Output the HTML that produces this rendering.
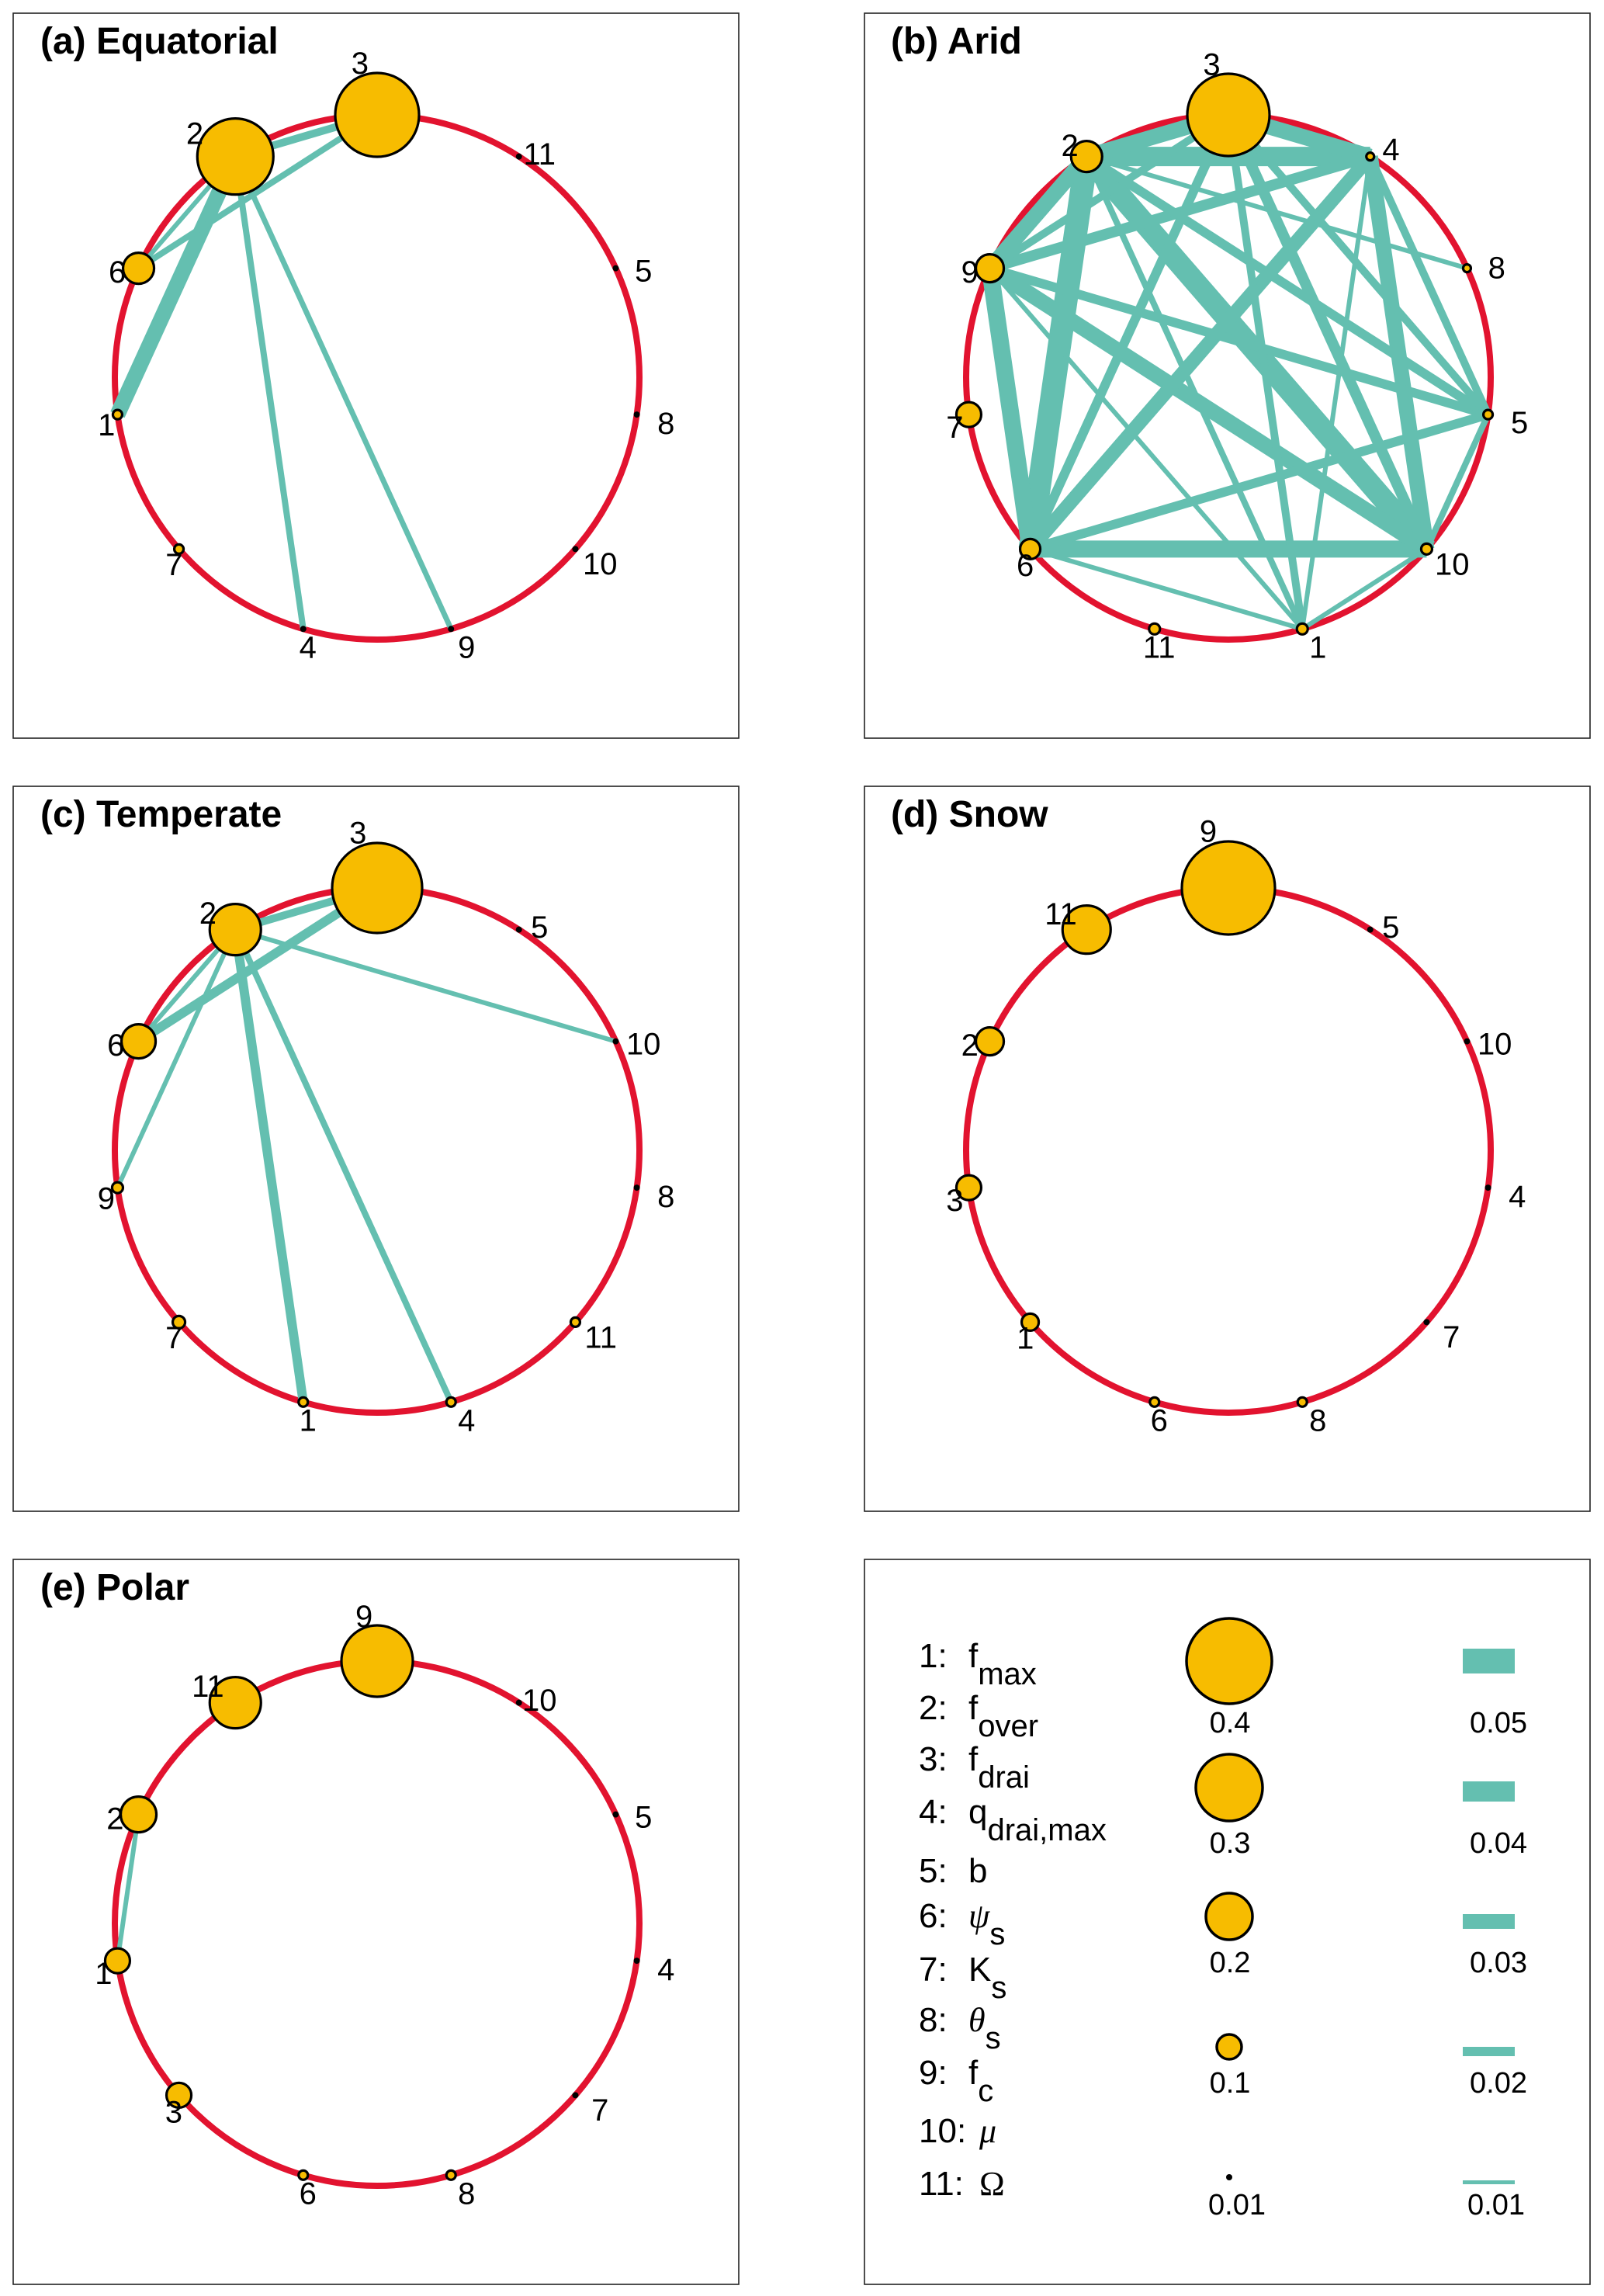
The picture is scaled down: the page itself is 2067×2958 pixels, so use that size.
<!DOCTYPE html>
<html><head><meta charset="utf-8">
<style>
html,body{margin:0;padding:0;background:#fff;}
svg{display:block;}
text{font-family:"Liberation Sans",Arial,sans-serif;}
.t{font-weight:bold;font-size:48px;}
.lb text{font-size:40px;text-anchor:middle;dominant-baseline:central;}
.lg{font-size:44px;}
.sub{font-size:40px;}
.gr{font-family:"Liberation Serif",serif;font-style:italic;}
.num{font-size:38px;text-anchor:middle;}
</style></head>
<body>
<svg id="s" width="2067" height="2958" xmlns="http://www.w3.org/2000/svg">
<rect width="2067" height="2958" fill="#fff"/>
<g id="p0"><rect x="17" y="17" width="935" height="934" fill="none" stroke="#222" stroke-width="1.6"/>
<text class="t" x="52" y="69">(a) Equatorial</text>
<g class="lb"><text>1</text><text>2</text><text>3</text><text>4</text><text>5</text><text>6</text><text>7</text><text>8</text><text>9</text><text>10</text><text>11</text></g></g>
<g id="p1"><rect x="1114" y="17" width="935" height="934" fill="none" stroke="#222" stroke-width="1.6"/>
<text class="t" x="1148" y="69">(b) Arid</text>
<g class="lb"><text>1</text><text>2</text><text>3</text><text>4</text><text>5</text><text>6</text><text>7</text><text>8</text><text>9</text><text>10</text><text>11</text></g></g>
<g id="p2"><rect x="17" y="1013" width="935" height="934" fill="none" stroke="#222" stroke-width="1.6"/>
<text class="t" x="52" y="1065">(c) Temperate</text>
<g class="lb"><text>1</text><text>2</text><text>3</text><text>4</text><text>5</text><text>6</text><text>7</text><text>8</text><text>9</text><text>10</text><text>11</text></g></g>
<g id="p3"><rect x="1114" y="1013" width="935" height="934" fill="none" stroke="#222" stroke-width="1.6"/>
<text class="t" x="1148" y="1065">(d) Snow</text>
<g class="lb"><text>1</text><text>2</text><text>3</text><text>4</text><text>5</text><text>6</text><text>7</text><text>8</text><text>9</text><text>10</text><text>11</text></g></g>
<g id="p4"><rect x="17" y="2009" width="935" height="934" fill="none" stroke="#222" stroke-width="1.6"/>
<text class="t" x="52" y="2061">(e) Polar</text>
<g class="lb"><text>1</text><text>2</text><text>3</text><text>4</text><text>5</text><text>6</text><text>7</text><text>8</text><text>9</text><text>10</text><text>11</text></g></g>

<g id="leg">
<rect x="1114" y="2009" width="935" height="934" fill="none" stroke="#222" stroke-width="1.6"/>
<text class="lg" x="1184" y="2148">1:</text><text class="lg" x="1248" y="2148">f<tspan class="sub" dy="22">max</tspan></text>
<text class="lg" x="1184" y="2215">2:</text><text class="lg" x="1248" y="2215">f<tspan class="sub" dy="22">over</tspan></text>
<text class="lg" x="1184" y="2281">3:</text><text class="lg" x="1248" y="2281">f<tspan class="sub" dy="22">drai</tspan></text>
<text class="lg" x="1184" y="2349">4:</text><text class="lg" x="1248" y="2349">q<tspan class="sub" dy="22">drai,max</tspan></text>
<text class="lg" x="1184" y="2425">5:</text><text class="lg" x="1248" y="2425">b</text>
<text class="lg" x="1184" y="2483">6:</text><text class="lg" x="1248" y="2483"><tspan class="gr">ψ</tspan><tspan class="sub" dy="22">s</tspan></text>
<text class="lg" x="1184" y="2552">7:</text><text class="lg" x="1248" y="2552">K<tspan class="sub" dy="22">s</tspan></text>
<text class="lg" x="1184" y="2617">8:</text><text class="lg" x="1248" y="2617"><tspan class="gr">θ</tspan><tspan class="sub" dy="22">s</tspan></text>
<text class="lg" x="1184" y="2685">9:</text><text class="lg" x="1248" y="2685">f<tspan class="sub" dy="22">c</tspan></text>
<text class="lg" x="1184" y="2760">10:</text><text class="lg" x="1262" y="2760"><tspan class="gr">μ</tspan></text>
<text class="lg" x="1184" y="2828">11:</text><text class="lg" x="1262" y="2828" style="font-family:'Liberation Serif',serif">Ω</text>

<circle cx="1584" cy="2140" r="55" fill="#F7BC00" stroke="#000" stroke-width="3.5"/>
<circle cx="1584" cy="2303" r="43" fill="#F7BC00" stroke="#000" stroke-width="3.5"/>
<circle cx="1584" cy="2469" r="30" fill="#F7BC00" stroke="#000" stroke-width="3.5"/>
<circle cx="1584" cy="2637" r="16" fill="#F7BC00" stroke="#000" stroke-width="3.5"/>
<circle cx="1584" cy="2805" r="4" fill="#000"/>
<text class="num" x="1585" y="2232">0.4</text>
<text class="num" x="1585" y="2387">0.3</text>
<text class="num" x="1585" y="2541">0.2</text>
<text class="num" x="1585" y="2696">0.1</text>
<text class="num" x="1594" y="2853">0.01</text>

<rect x="1885" y="2124" width="67" height="32" fill="#64BFB0"/>
<rect x="1885" y="2295" width="67" height="26" fill="#64BFB0"/>
<rect x="1885" y="2466" width="67" height="19" fill="#64BFB0"/>
<rect x="1885" y="2637" width="67" height="12" fill="#64BFB0"/>
<rect x="1885" y="2809" width="67" height="5" fill="#64BFB0"/>
<text class="num" x="1931" y="2232">0.05</text>
<text class="num" x="1931" y="2387">0.04</text>
<text class="num" x="1931" y="2541">0.03</text>
<text class="num" x="1931" y="2696">0.02</text>
<text class="num" x="1928" y="2853">0.01</text>
</g>
</svg>
<script>
(function(){
var NS="http://www.w3.org/2000/svg";
var P=[
{x:17,y:17,ord:[3,11,5,8,10,9,4,7,1,6,2],
 R:[0,6,49,54,4,4,20,6,4,4,4,3],
 E:[[2,1,20],[2,3,10],[3,6,8],[2,6,6],[2,4,8],[2,9,7]]},
{x:1114,y:17,ord:[3,4,8,5,10,1,11,6,7,9,2],
 R:[0,7,20,53,5,6,13,16,5,18,7,7],
 E:[[2,6,30],[2,10,28],[2,4,25],[2,3,20],[3,4,20],[9,2,20],[9,6,22],[6,10,22],[9,10,20],[4,10,20],[6,4,18],[3,10,14],[9,4,14],[9,3,10],[3,6,12],[9,5,12],[2,5,12],[6,5,12],[3,5,10],[3,1,10],[2,1,8],[4,5,10],[10,5,8],[4,1,6],[10,1,6],[6,1,6],[9,1,6],[2,8,6]]},
{x:17,y:1013,ord:[3,5,10,8,11,4,1,7,9,6,2],
 R:[0,6,33,58,6,4,22,8,4,7,4,6],
 E:[[3,2,10],[3,6,12],[2,6,6],[2,9,6],[2,1,12],[2,4,8],[2,10,6]]},
{x:1114,y:1013,ord:[9,5,10,4,7,8,6,1,3,2,11],
 R:[0,11,18,16,4,4,6,4,6,60,4,31],E:[]},
{x:17,y:2009,ord:[9,10,5,4,7,8,6,3,1,2,11],
 R:[0,16,23,16,4,4,6,4,6,46,4,33],E:[[2,1,6]]}
];
function mk(t,a){var e=document.createElementNS(NS,t);for(var k in a)e.setAttribute(k,a[k]);return e;}
P.forEach(function(p,i){
 var g=document.getElementById('p'+i),lb=g.querySelector('.lb');
 var cx=p.x+469,cy=p.y+469,r=338,pos={};
 p.ord.forEach(function(n,k){var t=(-90+k*360/11)*Math.PI/180;pos[n]=[cx+r*Math.cos(t),cy+r*Math.sin(t),t];});
 g.insertBefore(mk('circle',{cx:cx,cy:cy,r:r,fill:'none',stroke:'#E2132F','stroke-width':8}),lb);
 p.E.forEach(function(e){var a=pos[e[0]],b=pos[e[1]];
  g.insertBefore(mk('line',{x1:a[0],y1:a[1],x2:b[0],y2:b[1],stroke:'#64BFB0','stroke-width':e[2]}),lb);});
 for(var n=1;n<=11;n++){var q=pos[n],R=p.R[n];
  if(R<=4) g.insertBefore(mk('circle',{cx:q[0],cy:q[1],r:4,fill:'#000'}),lb);
  else g.insertBefore(mk('circle',{cx:q[0],cy:q[1],r:R,fill:'#F7BC00',stroke:'#000','stroke-width':3.2}),lb);
 }
 var ts=lb.children;
 for(var n=1;n<=11;n++){var q=pos[n],R=p.R[n],t=q[2],t2=t-30*Math.PI/180;
  var m=R>4?R*Math.max(0,0.6-0.7*Math.sin(t)):0;
  var x=q[0]+13+25*Math.cos(t)+m*Math.cos(t2);
  var y=q[1]+10+15*Math.sin(t)+m*Math.sin(t2);
  ts[n-1].setAttribute('x',x.toFixed(1));ts[n-1].setAttribute('y',y.toFixed(1));}
});
})();
</script>
</body></html>
